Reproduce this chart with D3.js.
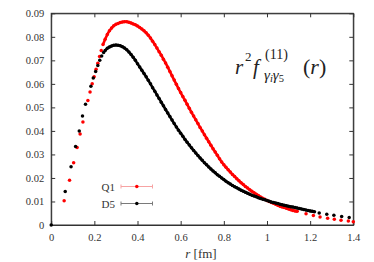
<!DOCTYPE html>
<html>
<head>
<meta charset="utf-8">
<script src="https://cdn.jsdelivr.net/npm/d3@7"></script>
<style>
  body { margin: 0; background: #fff; }
</style>
</head>
<body>
<div id="chart"></div>
<script>
// tick labels
var xTicks = [0, 0.2, 0.4, 0.6, 0.8, 1, 1.2, 1.4];
var yTicks = [0, 0.01, 0.02, 0.03, 0.04, 0.05, 0.06, 0.07, 0.08, 0.09];

// series names
var seriesNames = ["Q1", "D5"];

// Q1 (red) : r [fm] and r^2 f
var rQ1 = [0.06, 0.085, 0.104, 0.12, 0.134, 0.147, 0.17, 0.18, 0.19, 0.199, 0.208, 0.216, 0.224, 0.232,
  0.24, 0.25, 0.26, 0.27, 0.28, 0.29, 0.30, 0.31, 0.32, 0.33, 0.34, 0.35, 0.36, 0.37, 0.38, 0.39,
  0.40, 0.41, 0.42, 0.43, 0.44, 0.45, 0.46, 0.47, 0.48, 0.49, 0.50, 0.51, 0.52, 0.53, 0.54, 0.55,
  0.56, 0.57, 0.58, 0.59, 0.60, 0.61, 0.62, 0.63, 0.64, 0.65, 0.66, 0.67, 0.68, 0.69, 0.70, 0.71,
  0.72, 0.73, 0.74, 0.75, 0.76, 0.77, 0.78, 0.79, 0.80, 0.81, 0.82, 0.83, 0.84, 0.85, 0.86, 0.87,
  0.88, 0.89, 0.90, 0.91, 0.92, 0.93, 0.94, 0.95, 0.96, 0.97, 0.98, 0.99, 1.00, 1.01, 1.02, 1.03,
  1.04, 1.05, 1.06, 1.07, 1.08, 1.09, 1.10, 1.11, 1.12, 1.13, 1.14,
  1.181, 1.215, 1.246, 1.281, 1.312, 1.343, 1.377, 1.40];
var fQ1 = [0.0103, 0.019, 0.0265, 0.033, 0.0387, 0.0438, 0.0529, 0.0565, 0.0600, 0.0630, 0.0662, 0.0688, 0.0716, 0.0742,
  0.0767, 0.0790, 0.0810, 0.0826, 0.0838, 0.0847, 0.0853, 0.0857, 0.0861, 0.0863, 0.0864, 0.0864, 0.0862, 0.0859, 0.0855, 0.0851,
  0.0846, 0.0840, 0.0833, 0.0826, 0.0817, 0.0807, 0.0795, 0.0781, 0.0767, 0.0752, 0.0737, 0.0722, 0.0705, 0.0689, 0.0671, 0.0653,
  0.0634, 0.0616, 0.0598, 0.0580, 0.0563, 0.0546, 0.0530, 0.0513, 0.0496, 0.0479, 0.0463, 0.0447, 0.0431, 0.0415, 0.0400, 0.0384,
  0.0369, 0.0354, 0.0339, 0.0324, 0.0310, 0.0296, 0.0282, 0.0268, 0.0256, 0.0245, 0.0235, 0.0225, 0.0215, 0.0206, 0.0197, 0.0188,
  0.0180, 0.0172, 0.0164, 0.0157, 0.0150, 0.0143, 0.0137, 0.0131, 0.0125, 0.0119, 0.0114, 0.0109, 0.0104, 0.0100, 0.0096, 0.0092,
  0.0088, 0.0084, 0.0080, 0.0077, 0.0074, 0.0071, 0.0068, 0.0065, 0.0062, 0.0060, 0.0058,
  0.0048, 0.0040, 0.0034, 0.0029, 0.0024, 0.0020, 0.0017, 0.0014];

// D5 (black)
var rD5 = [0, 0.065, 0.092, 0.113, 0.13, 0.145, 0.159, 0.184, 0.195, 0.206, 0.216, 0.225, 0.234, 0.243,
  0.25, 0.26, 0.27, 0.28, 0.29, 0.30, 0.31, 0.32, 0.33, 0.34, 0.35, 0.36, 0.37, 0.38, 0.39,
  0.40, 0.41, 0.42, 0.43, 0.44, 0.45, 0.46, 0.47, 0.48, 0.49, 0.50, 0.51, 0.52, 0.53, 0.54, 0.55,
  0.56, 0.57, 0.58, 0.59, 0.60, 0.61, 0.62, 0.63, 0.64, 0.65, 0.66, 0.67, 0.68, 0.69, 0.70, 0.71,
  0.72, 0.73, 0.74, 0.75, 0.76, 0.77, 0.78, 0.79, 0.80, 0.81, 0.82, 0.83, 0.84, 0.85, 0.86, 0.87,
  0.88, 0.89, 0.90, 0.91, 0.92, 0.93, 0.94, 0.95, 0.96, 0.97, 0.98, 0.99, 1.00, 1.01, 1.02, 1.03,
  1.04, 1.05, 1.06, 1.07, 1.08, 1.09, 1.10, 1.11, 1.12, 1.13, 1.14, 1.15, 1.16, 1.17, 1.18, 1.19,
  1.20, 1.21, 1.22,
  1.242, 1.277, 1.31, 1.346, 1.381];
var fD5 = [0, 0.0142, 0.0248, 0.0334, 0.0400, 0.0463, 0.0513, 0.0590, 0.0625, 0.0653, 0.0678, 0.0700, 0.0718, 0.0733,
  0.0742, 0.0751, 0.0757, 0.0761, 0.0764, 0.0765, 0.0764, 0.0762, 0.0758, 0.0752, 0.0745, 0.0736, 0.0725, 0.0713, 0.0700,
  0.0686, 0.0672, 0.0658, 0.0644, 0.0630, 0.0615, 0.0600, 0.0584, 0.0569, 0.0553, 0.0538, 0.0522, 0.0507, 0.0491, 0.0476, 0.0461,
  0.0446, 0.0431, 0.0417, 0.0403, 0.0390, 0.0377, 0.0364, 0.0352, 0.0340, 0.0328, 0.0317, 0.0306, 0.0295, 0.0285, 0.0275, 0.0265,
  0.0256, 0.0247, 0.0238, 0.0230, 0.0222, 0.0214, 0.0207, 0.0200, 0.0193, 0.0186, 0.0180, 0.0174, 0.0168, 0.0163, 0.0158, 0.0153,
  0.0148, 0.0144, 0.0139, 0.0135, 0.0131, 0.0127, 0.0123, 0.0120, 0.0116, 0.0113, 0.0110, 0.0107, 0.0104, 0.0101, 0.0098, 0.0096,
  0.0093, 0.0091, 0.0088, 0.0086, 0.0084, 0.0082, 0.0080, 0.0078, 0.0076, 0.0074, 0.0072, 0.0070, 0.0068, 0.0066, 0.0064, 0.0062,
  0.0060, 0.0058, 0.0056,
  0.0051, 0.0046, 0.0041, 0.0036, 0.0032];

var W = 374, H = 262;
var margin = {top: 13.3, right: 20.7, bottom: 37, left: 51.2};
var serif = "'Liberation Serif', 'DejaVu Serif', serif";

var svg = d3.select("#chart").append("svg").attr("width", W).attr("height", H)
    .style("font-family", serif);

var x = d3.scaleLinear().domain([0, 1.4]).range([margin.left, W - margin.right]);
var y = d3.scaleLinear().domain([0, 0.09]).range([H - margin.bottom, margin.top]);

var fmt = d3.format("~g");

// axes, ticks pointing inward, mirrored on top/right
svg.append("g").attr("transform", "translate(0," + y(0) + ")")
    .call(d3.axisBottom(x).tickValues(xTicks).tickSizeInner(-4).tickSizeOuter(0).tickPadding(9).tickFormat(fmt));
svg.append("g").attr("transform", "translate(" + x(0) + ",0)")
    .call(d3.axisLeft(y).tickValues(yTicks).tickSizeInner(-4).tickSizeOuter(0).tickPadding(7).tickFormat(fmt));
svg.append("g").attr("transform", "translate(0," + y(0.09) + ")")
    .call(d3.axisTop(x).tickValues(xTicks).tickSizeInner(-4).tickSizeOuter(0).tickFormat(""));
svg.append("g").attr("transform", "translate(" + x(1.4) + ",0)")
    .call(d3.axisRight(y).tickValues(yTicks).tickSizeInner(-4).tickSizeOuter(0).tickFormat(""));

svg.selectAll("g").attr("font-family", null);
svg.selectAll(".domain").attr("stroke", "#333");
svg.selectAll(".tick line").attr("stroke", "#333");
svg.selectAll(".tick text").attr("font-size", 10.5).attr("fill", "#333");

// frame
svg.append("rect")
    .attr("x", x(0)).attr("y", y(0.09))
    .attr("width", x(1.4) - x(0)).attr("height", y(0) - y(0.09))
    .attr("fill", "none").attr("stroke", "#333").attr("stroke-width", 1);

// data points
var series = [
  {name: seriesNames[0], r: rQ1, f: fQ1, color: "#ff0000", bar: "#f7a3a3", dense: [0.235, 1.145]},
  {name: seriesNames[1], r: rD5, f: fD5, color: "#000000", bar: "#7a7a7a", dense: [0.245, 1.225]}
];

series.forEach(function (s) {
  var idx = d3.range(s.r.length);
  // densely sampled stretch reads as a solid band
  var band = d3.line()
    .defined(function (i) { return s.r[i] >= s.dense[0] && s.r[i] <= s.dense[1]; })
    .x(function (i) { return x(s.r[i]); })
    .y(function (i) { return y(s.f[i]); });
  svg.append("path").attr("d", band(idx))
    .attr("fill", "none").attr("stroke", s.color).attr("stroke-width", 2.6)
    .attr("stroke-linejoin", "round");
  svg.append("g").selectAll("circle")
    .data(idx)
    .enter().append("circle")
    .attr("cx", function (i) { return x(s.r[i]); })
    .attr("cy", function (i) { return y(s.f[i]); })
    .attr("r", 1.75)
    .attr("fill", s.color);
});

// legend
var legendX = 115, legendY = [186.5, 203.5];
series.forEach(function (s, k) {
  var g = svg.append("g").attr("transform", "translate(0," + legendY[k] + ")");
  g.append("text").attr("x", legendX).attr("y", 4)
    .attr("text-anchor", "end").attr("font-size", 11).attr("fill", "#333").text(s.name);
  g.append("line").attr("x1", 121).attr("x2", 152.5).attr("y1", 0).attr("y2", 0)
    .attr("stroke", s.bar).attr("stroke-width", 1);
  [121, 152.5].forEach(function (cx) {
    g.append("line").attr("x1", cx).attr("x2", cx).attr("y1", -2).attr("y2", 2)
      .attr("stroke", s.bar).attr("stroke-width", 1);
  });
  g.append("circle").attr("cx", 136.8).attr("cy", 0).attr("r", 1.75).attr("fill", s.color);
});

// x axis title
var xt = svg.append("text").attr("x", 201).attr("y", 258).attr("text-anchor", "middle")
    .attr("font-size", 13).attr("fill", "#333");
xt.append("tspan").attr("font-style", "italic").text("r");
xt.append("tspan").text(" [fm]");

// formula label r^2 f^(11)_{gamma_i gamma_5}(r)
var lab = svg.append("g").attr("font-size", 21).attr("fill", "#222");
lab.append("text").attr("x", 235).attr("y", 74).attr("font-style", "italic").text("r");
lab.append("text").attr("x", 245).attr("y", 61).attr("font-size", 13).text("2");
lab.append("text").attr("x", 253).attr("y", 74).attr("font-style", "italic").text("f");
lab.append("text").attr("x", 265).attr("y", 59).attr("font-size", 14).text("(11)");
var sub = lab.append("text").attr("x", 264).attr("y", 80).attr("font-size", 15);
sub.append("tspan").attr("font-style", "italic").text("γ");
sub.append("tspan").attr("font-style", "italic").attr("font-size", 10.5).attr("dy", 2).text("i");
sub.append("tspan").attr("font-style", "italic").attr("dy", -2).text("γ");
sub.append("tspan").attr("font-size", 10.5).attr("dy", 2).text("5");
var rr = lab.append("text").attr("x", 303).attr("y", 74).attr("font-size", 22);
rr.append("tspan").text("(");
rr.append("tspan").attr("font-style", "italic").text("r");
rr.append("tspan").text(")");
</script>
</body>
</html>
